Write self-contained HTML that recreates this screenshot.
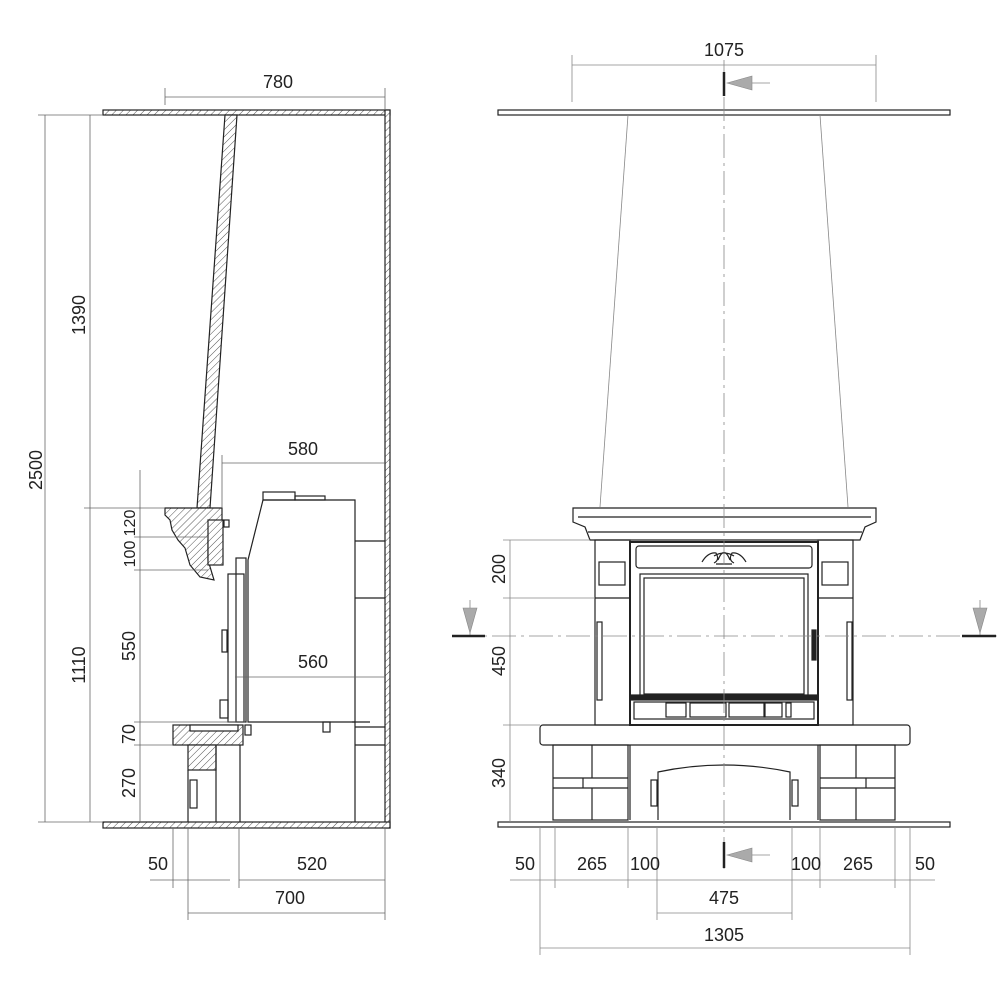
<!DOCTYPE html>
<html><head><meta charset="utf-8"><style>
html,body{margin:0;padding:0;background:#fff;}
svg{display:block}
text{font-family:"Liberation Sans",sans-serif;font-size:18px;fill:#222;}
</style></head><body>
<svg width="1000" height="1000" viewBox="0 0 1000 1000" xmlns="http://www.w3.org/2000/svg">
<defs>
<pattern id="h" width="5" height="5" patternUnits="userSpaceOnUse" patternTransform="rotate(45)">
<rect width="5" height="5" fill="#fff"/><line x1="0" y1="0" x2="0" y2="5" stroke="#555" stroke-width="1"/></pattern>
</defs>
<g fill="none" stroke="#222" stroke-width="1.2">
<rect x="103" y="110" width="287" height="5" fill="url(#h)"/>
<rect x="385" y="110" width="5" height="718" fill="url(#h)"/>
<rect x="103" y="822" width="287" height="6" fill="url(#h)"/>
<polygon points="225,115 237,115 210,508 197,508" fill="url(#h)"/>
<path d="M165,508 L222,508 L222,540 L208,540 L208,560 L214,580 L200,577 L190,565 L185,548 L178,540 L172,530 L170,520 L165,515 Z" fill="url(#h)"/>
<rect x="208" y="520" width="15" height="45" fill="url(#h)"/>
<rect x="224" y="520" width="5" height="7"/>
<path d="M263,500 L355,500 L355,722 L248,722 L248,560 Z"/>
<rect x="263" y="492" width="32" height="8"/><rect x="295" y="496" width="30" height="4"/>
<rect x="236" y="558" width="10" height="164"/>
<rect x="228" y="574" width="16" height="148"/>
<rect x="222" y="630" width="5" height="22"/>
<rect x="220" y="700" width="8" height="18"/>
<rect x="245" y="725" width="6" height="10"/>
<rect x="323" y="722" width="7" height="10"/>
<rect x="173" y="725" width="70" height="20" fill="url(#h)"/>
<rect x="190" y="725" width="48" height="6" fill="#fff"/>
<rect x="188" y="745" width="28" height="25" fill="url(#h)"/>
<line x1="188" y1="770" x2="188" y2="822"/><line x1="216" y1="745" x2="216" y2="822"/><line x1="240" y1="745" x2="240" y2="822"/>
<rect x="190" y="780" width="7" height="28"/>
<line x1="355" y1="722" x2="355" y2="822"/>
<line x1="355" y1="541" x2="385" y2="541"/><line x1="355" y1="598" x2="385" y2="598"/>
<line x1="355" y1="727" x2="385" y2="727"/><line x1="355" y1="745" x2="385" y2="745"/>
<line x1="352" y1="722" x2="370" y2="722"/>
</g>
<g stroke="#666" stroke-width="0.8" fill="none">
<line x1="165" y1="97" x2="385" y2="97"/><line x1="165" y1="88" x2="165" y2="105"/><line x1="385" y1="88" x2="385" y2="110"/>
<line x1="45" y1="115" x2="45" y2="822"/><line x1="38" y1="115" x2="103" y2="115"/><line x1="38" y1="822" x2="103" y2="822"/>
<line x1="90" y1="115" x2="90" y2="822"/><line x1="84" y1="508" x2="165" y2="508"/>
<line x1="140" y1="470" x2="140" y2="822"/>
<line x1="134" y1="537" x2="208" y2="537"/><line x1="134" y1="570" x2="208" y2="570"/>
<line x1="134" y1="722" x2="245" y2="722"/><line x1="134" y1="745" x2="173" y2="745"/>
<line x1="222" y1="463" x2="385" y2="463"/><line x1="222" y1="455" x2="222" y2="508"/>
<line x1="235" y1="677" x2="385" y2="677"/>
<line x1="150" y1="880" x2="230" y2="880"/><line x1="239" y1="880" x2="385" y2="880"/>
<line x1="188" y1="913" x2="385" y2="913"/>
<line x1="173" y1="828" x2="173" y2="888"/><line x1="188" y1="828" x2="188" y2="920"/>
<line x1="239" y1="828" x2="239" y2="888"/><line x1="385" y1="828" x2="385" y2="920"/>
</g>
<text x="278" y="88" text-anchor="middle">780</text>
<text x="303" y="455" text-anchor="middle">580</text>
<text x="313" y="668" text-anchor="middle">560</text>
<text x="158" y="870" text-anchor="middle">50</text>
<text x="312" y="870" text-anchor="middle">520</text>
<text x="290" y="904" text-anchor="middle">700</text>
<text transform="translate(42,470) rotate(-90)" text-anchor="middle">2500</text>
<text transform="translate(85,315) rotate(-90)" text-anchor="middle">1390</text>
<text transform="translate(85,665) rotate(-90)" text-anchor="middle">1110</text>
<text transform="translate(135,523) rotate(-90)" text-anchor="middle" style="font-size:16px">120</text>
<text transform="translate(135,554) rotate(-90)" text-anchor="middle" style="font-size:16px">100</text>
<text transform="translate(135,646) rotate(-90)" text-anchor="middle">550</text>
<text transform="translate(135,734) rotate(-90)" text-anchor="middle">70</text>
<text transform="translate(135,783) rotate(-90)" text-anchor="middle">270</text>

<g fill="none" stroke="#222" stroke-width="1.2">
<rect x="498" y="110" width="452" height="5"/>
<rect x="498" y="822" width="452" height="5"/>
<path d="M573,508 L876,508 L876,522 L865,527 L860,540 L590,540 L585,527 L573,522 Z"/>
<line x1="578" y1="517" x2="871" y2="517"/><line x1="588" y1="532" x2="862" y2="532"/>
<rect x="595" y="540" width="35" height="185"/><rect x="818" y="540" width="35" height="185"/>
<rect x="599" y="562" width="26" height="23"/><rect x="822" y="562" width="26" height="23"/>
<line x1="595" y1="598" x2="630" y2="598"/><line x1="818" y1="598" x2="853" y2="598"/>
<rect x="597" y="622" width="5" height="78"/><rect x="847" y="622" width="5" height="78"/>
<rect x="630" y="542" width="188" height="183" stroke-width="2"/>
<rect x="636" y="546" width="176" height="22" rx="3"/>
<rect x="640" y="574" width="168" height="122"/><rect x="644" y="578" width="160" height="116"/>
<rect x="630" y="695" width="188" height="5" fill="#222"/>
<rect x="634" y="702" width="180" height="17"/>
<rect x="666" y="703" width="20" height="14"/><rect x="690" y="703" width="36" height="14"/><rect x="729" y="703" width="36" height="14"/><rect x="764" y="703" width="18" height="14"/><rect x="786" y="703" width="5" height="14"/>
<rect x="812" y="630" width="4" height="30" fill="#222"/>
<path d="M702,562 Q708,552 716,553 Q720,560 714,563 M746,562 Q740,552 732,553 Q728,560 734,563 M718,560 Q724,545 730,560 M714,556 Q724,550 734,556 M716,564 L732,564"/>
<rect x="540" y="725" width="370" height="20" rx="3"/>
<rect x="553" y="745" width="75" height="75"/><rect x="820" y="745" width="75" height="75"/>
<line x1="553" y1="778" x2="628" y2="778"/><line x1="553" y1="788" x2="628" y2="788"/>
<line x1="820" y1="778" x2="895" y2="778"/><line x1="820" y1="788" x2="895" y2="788"/>
<line x1="592" y1="745" x2="592" y2="778"/><line x1="592" y1="788" x2="592" y2="820"/><line x1="583" y1="778" x2="583" y2="788"/>
<line x1="856" y1="745" x2="856" y2="778"/><line x1="856" y1="788" x2="856" y2="820"/><line x1="866" y1="778" x2="866" y2="788"/>
<path d="M658,820 L658,772 Q724,758 790,772 L790,820"/>
<rect x="651" y="780" width="6" height="26"/><rect x="792" y="780" width="6" height="26"/>
<line x1="630" y1="745" x2="630" y2="820"/><line x1="818" y1="745" x2="818" y2="820"/>
</g>
<g stroke="#888" stroke-width="0.8" fill="none">
<line x1="628" y1="115" x2="600" y2="507"/><line x1="820" y1="115" x2="848" y2="507"/>
<line x1="724" y1="60" x2="724" y2="870" stroke-dasharray="24,5,3,5"/>
<line x1="455" y1="636" x2="1000" y2="636" stroke-dasharray="24,5,3,5"/>
<line x1="572" y1="65" x2="876" y2="65"/><line x1="572" y1="55" x2="572" y2="102"/><line x1="876" y1="55" x2="876" y2="102"/>
<line x1="510" y1="540" x2="510" y2="822"/>
<line x1="503" y1="540" x2="590" y2="540"/><line x1="503" y1="598" x2="595" y2="598"/><line x1="503" y1="725" x2="540" y2="725"/>
<line x1="510" y1="880" x2="935" y2="880"/>
<line x1="657" y1="913" x2="792" y2="913"/>
<line x1="540" y1="948" x2="910" y2="948"/>
<line x1="540" y1="827" x2="540" y2="955"/><line x1="910" y1="827" x2="910" y2="955"/>
<line x1="555" y1="827" x2="555" y2="888"/><line x1="895" y1="827" x2="895" y2="888"/>
<line x1="628" y1="827" x2="628" y2="888"/><line x1="820" y1="827" x2="820" y2="888"/>
<line x1="657" y1="827" x2="657" y2="920"/><line x1="792" y1="827" x2="792" y2="920"/>
<line x1="740" y1="83" x2="770" y2="83"/><line x1="740" y1="855" x2="770" y2="855"/>
<line x1="470" y1="600" x2="470" y2="636"/><line x1="980" y1="600" x2="980" y2="636"/>
</g>
<g fill="#aaa" stroke="#888" stroke-width="0.6">
<polygon points="727,83 752,76 752,90"/><polygon points="727,855 752,848 752,862"/>
<polygon points="470,633 463,608 477,608"/><polygon points="980,633 973,608 987,608"/>
</g>
<g stroke="#222" stroke-width="2.5">
<line x1="724" y1="72" x2="724" y2="96"/><line x1="724" y1="842" x2="724" y2="868"/>
<line x1="452" y1="636" x2="485" y2="636"/><line x1="962" y1="636" x2="996" y2="636"/>
</g>
<text x="724" y="56" text-anchor="middle">1075</text>
<text transform="translate(505,569) rotate(-90)" text-anchor="middle">200</text>
<text transform="translate(505,661) rotate(-90)" text-anchor="middle">450</text>
<text transform="translate(505,773) rotate(-90)" text-anchor="middle">340</text>
<text x="525" y="870" text-anchor="middle">50</text>
<text x="592" y="870" text-anchor="middle">265</text>
<text x="645" y="870" text-anchor="middle">100</text>
<text x="806" y="870" text-anchor="middle">100</text>
<text x="858" y="870" text-anchor="middle">265</text>
<text x="925" y="870" text-anchor="middle">50</text>
<text x="724" y="904" text-anchor="middle">475</text>
<text x="724" y="941" text-anchor="middle">1305</text>
</svg>
</body></html>
